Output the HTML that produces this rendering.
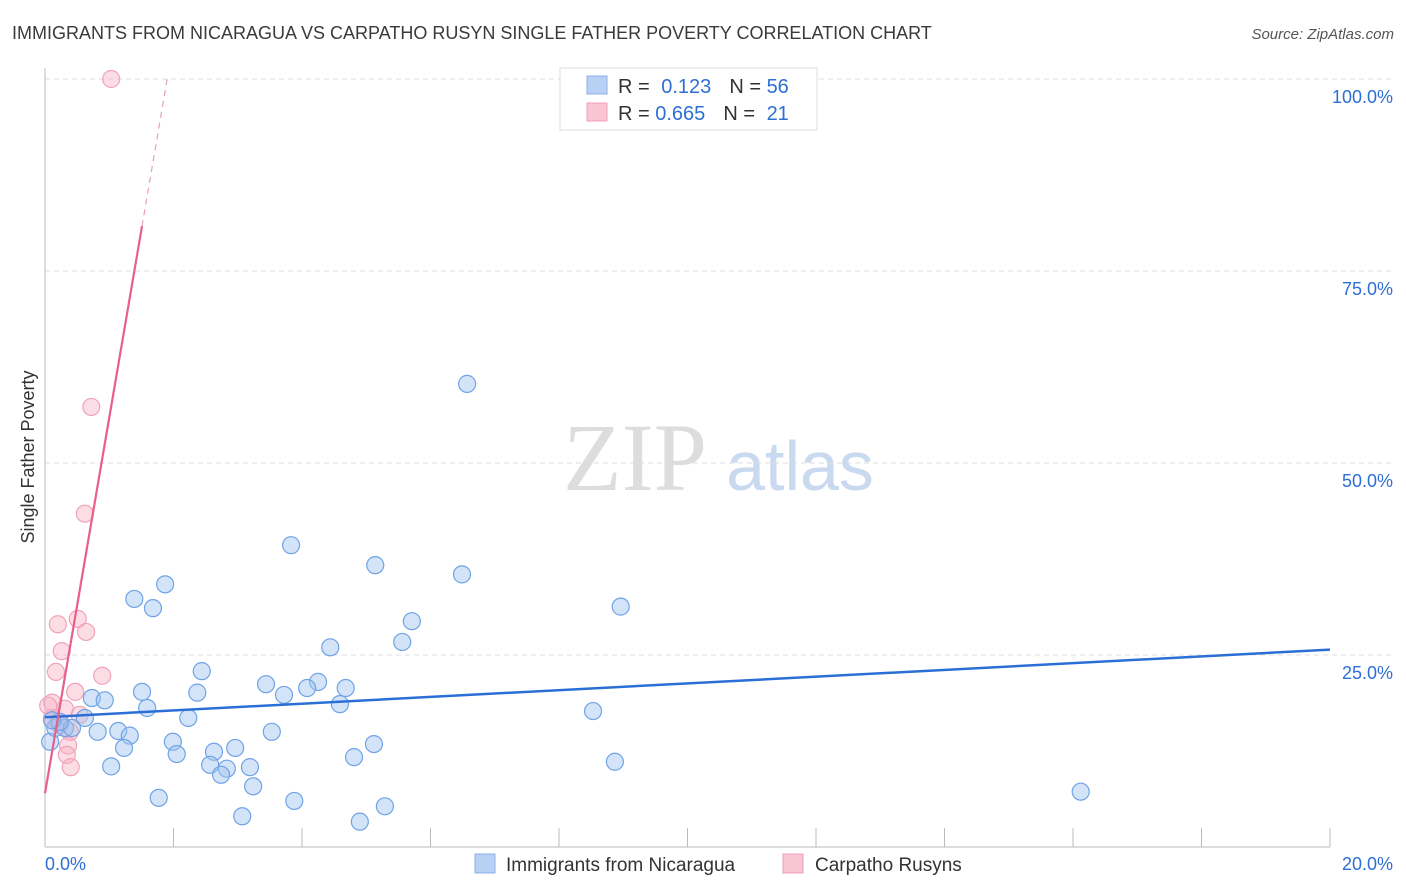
<!DOCTYPE html>
<html><head><meta charset="utf-8"><style>
html,body{margin:0;padding:0;background:#fff;width:1406px;height:892px;overflow:hidden;font-family:"Liberation Sans",sans-serif}
</style></head><body>
<svg id="chart" width="1406" height="892" xmlns="http://www.w3.org/2000/svg" font-family="Liberation Sans, sans-serif">
<text x="12" y="39" font-size="18" fill="#3a3a3a">IMMIGRANTS FROM NICARAGUA VS CARPATHO RUSYN SINGLE FATHER POVERTY CORRELATION CHART</text>
<text x="1394" y="39" font-size="15" fill="#555" text-anchor="end" font-style="italic">Source: ZipAtlas.com</text>
<text transform="translate(34,457) rotate(-90)" font-size="18" fill="#333" text-anchor="middle">Single Father Poverty</text>
<g>
<text x="635" y="490" font-size="96" fill="#ddd" font-family="Liberation Serif, serif" text-anchor="middle">ZIP</text>
<text x="800" y="490" font-size="70" fill="#c9d9f0" text-anchor="middle">atlas</text>
</g>
<g id="grid"></g>
<g id="axes"></g>
<g id="pts"></g>
<g id="trends"></g>
<g>
<rect x="560" y="68" width="257" height="62" fill="#fff" stroke="#ddd"/>
<rect x="587" y="76" width="20" height="18" fill="#b8d0f4" stroke="#8cb0e8"/>
<rect x="587" y="103" width="20" height="18" fill="#f9c4d4" stroke="#f0a0b8"/>
<text x="618" y="93" font-size="20" fill="#333">R = <tspan fill="#2d6fd4" dx="6">0.123</tspan><tspan dx="18" fill="#333">N = </tspan><tspan fill="#2d6fd4">56</tspan></text>
<text x="618" y="120" font-size="20" fill="#333">R = <tspan fill="#2d6fd4">0.665</tspan><tspan dx="18" fill="#333">N = </tspan><tspan fill="#2d6fd4" dx="6">21</tspan></text>
</g>
<g>
<rect x="475" y="854" width="20" height="19" fill="#b8d0f4" stroke="#8cb0e8"/>
<text x="506" y="871" font-size="19" fill="#333">Immigrants from Nicaragua</text>
<rect x="783" y="854" width="20" height="19" fill="#f9c4d4" stroke="#f0a0b8"/>
<text x="815" y="871" font-size="19" fill="#333">Carpatho Rusyns</text>
</g>
</svg>
<script>
const blueX=[6.57,3.83,5.14,6.49,1.87,1.39,1.68,8.96,5.71,4.44,5.56,2.44,3.44,4.25,4.68,4.08,1.51,2.37,3.72,0.73,0.93,4.59,1.59,8.53,2.23,0.62,3.53,0.82,1.14,1.32,1.99,5.12,1.23,2.96,2.63,2.05,4.81,2.57,8.87,1.03,2.83,3.19,2.74,3.24,16.12,1.77,3.88,5.29,3.07,4.90,0.08,0.16,0.31,0.42,0.23,0.11];
const blueY=[60.3,39.3,36.7,35.5,34.2,32.3,31.1,31.3,29.4,26.0,26.7,22.9,21.2,21.5,20.7,20.7,20.2,20.1,19.8,19.4,19.1,18.6,18.1,17.7,16.8,16.8,15.0,15.0,15.1,14.5,13.7,13.4,12.9,12.9,12.4,12.1,11.7,10.7,11.1,10.5,10.2,10.4,9.4,7.9,7.2,6.4,6.0,5.3,4.0,3.3,13.7,15.5,15.5,15.5,16.3,16.5];
const pinkX=[1.03,0.72,0.62,0.20,0.51,0.64,0.26,0.17,0.89,0.47,0.11,0.31,0.54,0.11,0.20,0.39,0.36,0.34,0.40,0.23,0.05];
const pinkY=[100,57.3,43.4,29.0,29.7,28.0,25.5,22.8,22.3,20.2,18.8,18.0,17.2,16.8,16.3,15.0,13.2,12.0,10.4,15.9,18.4];
const blueTrend=[16.9,25.7];
const pinkTrend=[7.0,48.9];
const yTicks=[25,50,75,100];
const yTickLabels=["25.0%","50.0%","75.0%","100.0%"];
const xTicks=[2,4,6,8,10,12,14,16,18,20];
const NS="http://www.w3.org/2000/svg";
const sx=v=>45+v/20*1285;
const sy=v=>847-v/25*192;
function mk(tag,attrs,parent){const e=document.createElementNS(NS,tag);for(const k in attrs)e.setAttribute(k,attrs[k]);parent.appendChild(e);return e;}
const grid=document.getElementById('grid'),axes=document.getElementById('axes'),pts=document.getElementById('pts'),tr=document.getElementById('trends');
yTicks.forEach((t,i)=>{
 const l=mk('line',{x1:45,x2:1394,y1:sy(t),y2:sy(t),stroke:'#ddd','stroke-dasharray':'5,4'},grid);
 
 
 const tx=mk('text',{x:1393,y:sy(t)+24,'font-size':18,fill:'#2d6fd4','text-anchor':'end'},grid);
 tx.textContent=yTickLabels[i];
 
 
});
let a=mk('line',{x1:45,x2:45,y1:68,y2:847,stroke:'#bbb'},axes);


a=mk('line',{x1:45,x2:1330,y1:847,y2:847,stroke:'#bbb'},axes);


xTicks.forEach(t=>{
 const l=mk('line',{x1:sx(t),x2:sx(t),y1:828,y2:847,stroke:'#bbb'},axes);
 
 
});
let t0=mk('text',{x:45,y:870,'font-size':18,fill:'#2d6fd4'},axes);t0.textContent='0.0%';


let t1=mk('text',{x:1393,y:870,'font-size':18,fill:'#2d6fd4','text-anchor':'end'},axes);t1.textContent='20.0%';


pinkX.forEach((x,i)=>{
 const c=mk('circle',{cx:sx(x),cy:sy(pinkY[i]),r:8.5,fill:'rgba(248,180,200,0.45)',stroke:'#f0a3ba','stroke-width':1.2},pts);
 
 
});
blueX.forEach((x,i)=>{
 const c=mk('circle',{cx:sx(x),cy:sy(blueY[i]),r:8.5,fill:'rgba(160,196,240,0.45)',stroke:'#6fa3e6','stroke-width':1.2},pts);
 
 
});
let b=mk('line',{x1:sx(0),y1:sy(blueTrend[0]),x2:sx(20),y2:sy(blueTrend[1]),stroke:'#2a6fd6','stroke-width':2.5},tr);


const pf=x=>pinkTrend[0]+pinkTrend[1]*x;
const xSolid=1.51, xEnd=(100-pinkTrend[0])/pinkTrend[1];
let p=mk('line',{x1:sx(0),y1:sy(pf(0)),x2:sx(xSolid),y2:sy(pf(xSolid)),stroke:'#e8608a','stroke-width':2.2},tr);


p=mk('line',{x1:sx(xSolid),y1:sy(pf(xSolid)),x2:sx(xEnd),y2:sy(100),stroke:'#e8a0b8','stroke-width':1.2,'stroke-dasharray':'6,5'},tr);


</script>
</body></html>
